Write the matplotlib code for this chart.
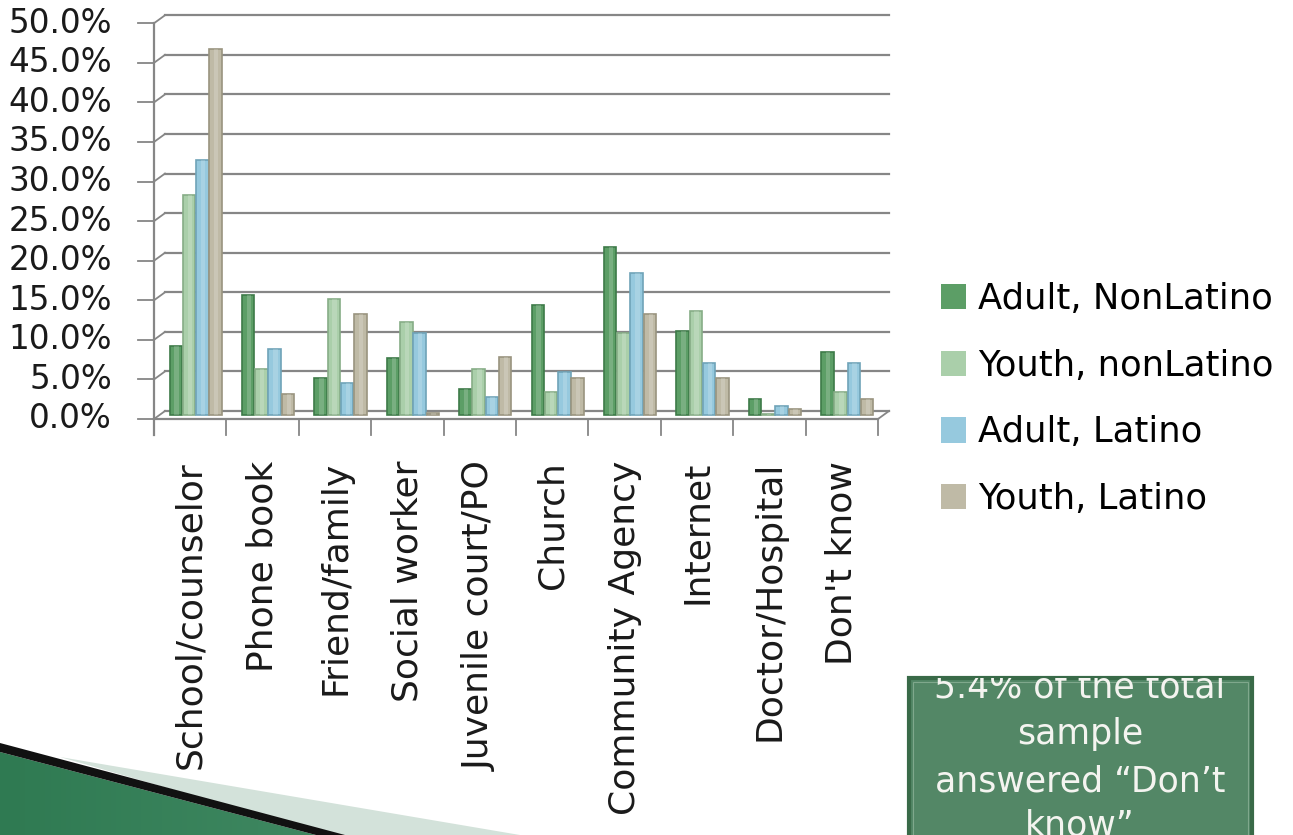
import numpy as np
import matplotlib
matplotlib.use("Agg")
import matplotlib.pyplot as plt
from matplotlib.patches import Rectangle, Polygon
from matplotlib.colors import LinearSegmentedColormap

plt.rcParams["font.family"] = ["DejaVu Sans"]

categories = ["School/counselor", "Phone book", "Friend/family", "Social worker",
              "Juvenile court/PO", "Church", "Community Agency", "Internet",
              "Doctor/Hospital", "Don't know"]
series = ["Adult, NonLatino", "Youth, nonLatino", "Adult, Latino", "Youth, Latino"]

adult_nonlatino = [8.7, 15.2, 4.7, 7.2, 3.3, 13.9, 21.2, 10.6, 2.0, 8.0]
youth_nonlatino = [27.8, 5.8, 14.6, 11.7, 5.8, 2.9, 10.4, 13.1, 0.1, 2.9]
adult_latino = [32.2, 8.3, 4.1, 10.4, 2.3, 5.4, 17.9, 6.6, 1.2, 6.6]
youth_latino = [46.2, 2.6, 12.8, 0.2, 7.3, 4.7, 12.8, 4.7, 0.7, 2.0]

values = [adult_nonlatino, youth_nonlatino, adult_latino, youth_latino]
face_colors = ["#5c9e66", "#aacfaa", "#96c9de", "#bfbaa6"]
edge_colors = ["#3d7a48", "#86ad86", "#6fa3b8", "#99947f"]

y_ticks = np.arange(0, 55, 5)

W, H = 1293, 835
fig = plt.figure(figsize=(W / 100, H / 100), dpi=100)
fig.patch.set_facecolor("white")


def fx(px):
    return px / W


def fy(py):
    return 1 - py / H


# plot area sits at mid depth of the 3-D box
ax = fig.add_axes([fx(159.5), fy(415), fx(883.5) - fx(159.5), fy(19.25) - fy(415)])
ax.set_xlim(0, 10)
ax.set_ylim(0, 50)
ax.axis("off")

dx = 5.5 / 72.4   # depth shift, category units
dy = 4 / 7.915    # depth shift, percent units
grid_color = "#868686"

# back wall gridlines with the diagonal links to the front axis
for v in y_ticks:
    ax.plot([dx, 10 + dx], [v + dy, v + dy], color=grid_color, lw=1.6,
            clip_on=False, zorder=1)
    ax.plot([-dx, dx], [v - dy, v + dy], color=grid_color, lw=1.3,
            clip_on=False, zorder=1)
    ax.plot([-dx - 16 / 72.4, -dx], [v - dy, v - dy], color=grid_color, lw=1.3,
            clip_on=False, zorder=1)
    ax.text(-dx - 42 / 72.4, v - dy, f"{v:.1f}%", ha="right", va="center",
            fontsize=23.5, color="#1a1a1a")

# front axis and floor edge
ax.plot([-dx, -dx], [50 - dy, -dy - 16 / 7.915], color=grid_color, lw=1.6,
        clip_on=False, zorder=1)
ax.plot([-dx, 10 - dx], [-dy, -dy], color=grid_color, lw=1.6, clip_on=False, zorder=1)
ax.plot([10 - dx, 10 + dx], [-dy, dy], color=grid_color, lw=1.3, clip_on=False, zorder=1)
for i in range(1, 11):
    ax.plot([i - dx, i - dx], [-dy, -dy - 16 / 7.915], color=grid_color, lw=1.3,
            clip_on=False, zorder=1)

# clustered bars
x = np.arange(len(categories)) + 0.5
offsets = np.array([-1.5, -0.5, 0.5, 1.5]) * 0.183
for k, vals in enumerate(values):
    ax.bar(x + offsets[k], vals, width=0.172, color=face_colors[k],
           edgecolor=edge_colors[k], linewidth=1.2, label=series[k],
           zorder=3, clip_on=False)
    # soft highlight down the middle of each column
    ax.bar(x + offsets[k] + 0.01, vals, width=0.06, color="white", alpha=0.18,
           linewidth=0, zorder=4, clip_on=False)

# category labels under the floor
for i, name in enumerate(categories):
    fig.text(fx(154 + 72.4 * (i + 0.5)), fy(461), name, rotation=90,
             ha="center", va="top", fontsize=26, color="#1a1a1a")

# legend
handles = [Rectangle((0, 0), 1, 1, facecolor=c, edgecolor="none") for c in face_colors]
fig.legend(handles, series, loc="center left", bbox_to_anchor=(fx(923), fy(399)),
           frameon=False, fontsize=25.5, handlelength=0.72, handleheight=0.72,
           handletextpad=0.33, labelspacing=0.92, borderpad=0)

# note box in the lower right corner
box = Rectangle((fx(909), fy(840)), fx(1252) - fx(909), fy(678) - fy(840),
                transform=fig.transFigure, facecolor="#538766",
                edgecolor="#396a48", linewidth=3, zorder=5)
fig.patches.append(box)
inner = Rectangle((fx(913), fy(840)), fx(1248) - fx(913), fy(682) - fy(840),
                  transform=fig.transFigure, facecolor="none",
                  edgecolor="#7fa88c", linewidth=0.8, zorder=5)
fig.patches.append(inner)
note_lines = ["5.4% of the total", "sample", "answered \u201cDon\u2019t", "know\u201d"]
note_baselines = [698, 744, 792, 836]
for line, base in zip(note_lines, note_baselines):
    t = fig.text(fx(1080), fy(base), line, ha="center", va="baseline",
                 fontsize=25, color="#f4f4f0", zorder=6)
    t.set_clip_path(box)

# decorative slide corner
pale = Polygon([(fx(60), fy(757)), (fx(520), fy(835)), (fx(330), fy(835))],
               closed=True, transform=fig.transFigure, facecolor="#d3e2da",
               edgecolor="none", zorder=1)
fig.patches.append(pale)
band = Polygon([(fx(0), fy(743)), (fx(345), fy(835)), (fx(316), fy(835)), (fx(0), fy(752))],
               closed=True, transform=fig.transFigure, facecolor="#111111",
               edgecolor="none", zorder=2)
fig.patches.append(band)
grad_ax = fig.add_axes([0, 0, 1, 1], zorder=-1)
grad_ax.axis("off")
grad = np.linspace(0, 1, 256)[None, :]
img = grad_ax.imshow(grad, extent=[0, 1, 0, 1], aspect="auto",
                     cmap=LinearSegmentedColormap.from_list(
                         "corner", ["#2f7a52", "#4f9670", "#7fb596"]))
img.set_clip_path(Polygon([(0, fy(752)), (fx(316), 0), (0, 0)], closed=True,
                          transform=grad_ax.transAxes))
grad_ax.set_xlim(0, 1)
grad_ax.set_ylim(0, 1)

fig.savefig("out.png", dpi=100, facecolor="white")
